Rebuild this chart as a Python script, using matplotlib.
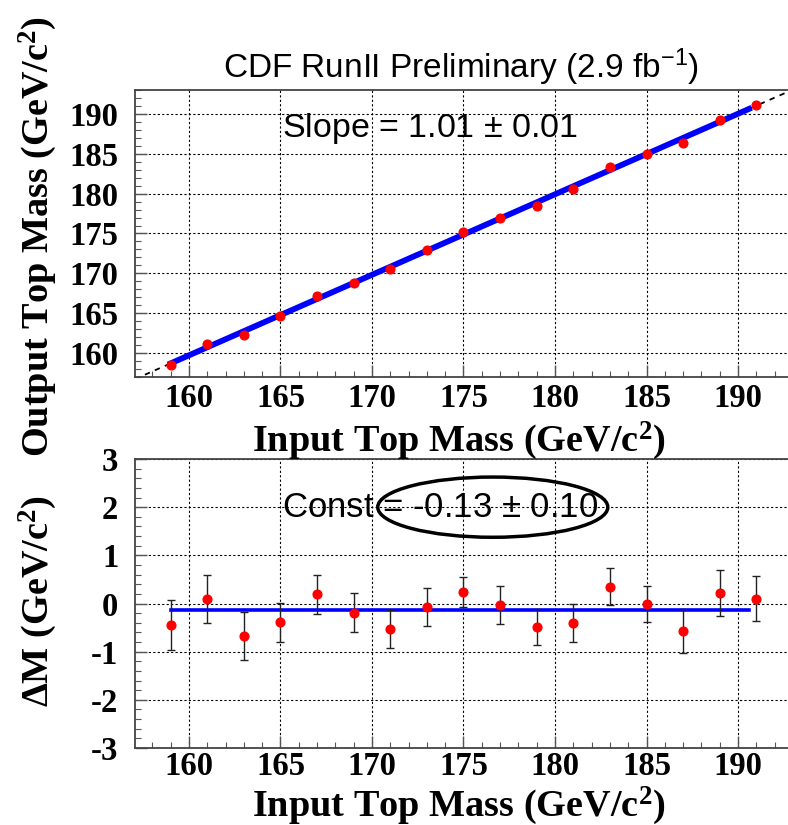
import matplotlib
matplotlib.use("Agg")
import matplotlib.pyplot as plt
from matplotlib.patches import Ellipse
from matplotlib.ticker import MultipleLocator
import numpy as np

# input masses and what the fitter gave back
input_mass = [159, 161, 163, 165, 167, 169, 171, 173, 175, 177, 179, 181, 183, 185, 187, 189, 191]
output_mass = [158.55, 161.1, 162.3, 164.6, 167.2, 168.8, 170.5, 172.9, 175.2, 177.0,
               178.5, 180.6, 183.35, 185.0, 186.4, 189.2, 191.1]
delta_m = [-0.45, 0.10, -0.68, -0.39, 0.19, -0.19, -0.53, -0.07, 0.23, -0.03,
           -0.49, -0.40, 0.35, -0.01, -0.57, 0.22, 0.10]
delta_err = [0.52, 0.50, 0.50, 0.40, 0.40, 0.40, 0.40, 0.40, 0.31, 0.39,
             0.38, 0.39, 0.39, 0.38, 0.45, 0.48, 0.47]

slope, slope_err = 1.01, 0.01
const, const_err = -0.13, 0.10
pivot = 175.0
fit_range = (159.0, 190.6)

plt.rcParams['mathtext.default'] = 'regular'
plt.rcParams['axes.unicode_minus'] = False
W, H = 788, 825
fig = plt.figure(figsize=(W / 100, H / 100), dpi=100)

serif = 'Liberation Serif'
sans = 'Liberation Sans'
xlim = (157.05, 192.95)


def px(x0, y0, x1, y1):
    # pixel box -> figure fraction rect
    return [x0 / W, 1 - y1 / H, (x1 - x0) / W, (y1 - y0) / H]


def style(ax, ymajor, yminor, xpad=4):
    ax.set_xlim(*xlim)
    ax.xaxis.set_major_locator(MultipleLocator(5))
    ax.xaxis.set_minor_locator(MultipleLocator(1))
    ax.yaxis.set_major_locator(MultipleLocator(ymajor))
    ax.yaxis.set_minor_locator(MultipleLocator(yminor))
    ax.tick_params(which='both', direction='in', top=False, right=False, color='#555555')
    ax.tick_params(which='major', length=8.5, width=1.0)
    ax.tick_params(which='minor', length=4.5, width=0.8)
    ax.tick_params(axis='x', which='major', pad=xpad)
    ax.tick_params(axis='y', which='major', pad=12)
    ax.grid(True, which='major', color='black', linestyle=(0, (2, 2)), linewidth=0.8)
    for s in ax.spines.values():
        s.set_color('#444444')
        s.set_linewidth(1.3)
    for lab in ax.get_xticklabels() + ax.get_yticklabels():
        lab.set_fontfamily(serif)
        lab.set_fontweight('bold')
        lab.set_fontsize(23.5)


# ---- top: output vs input ----
ax1 = fig.add_axes(px(135, 90, 792, 377))
ax1.set_ylim(157, 193)
xx = np.array(xlim)
ax1.plot(xx, pivot + const + slope * (xx - pivot), color='black', linestyle=(0, (3, 3)), lw=1.3, zorder=2)
fx = np.array(fit_range)
ax1.plot(fx, pivot + const + slope * (fx - pivot), color='#0000ff', lw=4.2, zorder=3)
ax1.plot(input_mass, output_mass, 'o', color='#ff0000', ms=6.3, mec='#ff0000', zorder=4)
style(ax1, 5, 1)
ax1.text(165.06, 188.2, f'Slope = {slope:.2f} $\\pm$ {slope_err:.2f}', fontfamily=sans,
         fontsize=24.5, ha='left', va='center')

# ---- bottom: residuals ----
ax2 = fig.add_axes(px(135, 459, 792, 748))
ax2.set_ylim(-3, 3)
ax2.errorbar(input_mass, delta_m, yerr=delta_err, fmt='none', ecolor='#222222', elinewidth=1.0,
             capsize=3, capthick=1.0, zorder=3)
ax2.plot(fx, [const, const], color='#0000ff', lw=2.6, zorder=2)
ax2.plot(input_mass, delta_m, 'o', color='#ff0000', ms=6.3, mec='#ff0000', zorder=4)
style(ax2, 1, 0.2, xpad=2)
ax2.text(165.06, 2.0, f'Const = {const:.2f} $\\pm$ {const_err:.2f}', fontfamily=sans,
         fontsize=25, ha='left', va='center')
ax2.add_patch(Ellipse((176.6, 2.0), 12.57, 1.25, fill=False, edgecolor='black', lw=2.5, zorder=5))

# ---- texts ----
fig.text(461 / W, 1 - 67 / H, 'CDF RunII Preliminary (2.9 fb$^{-1}$)', fontfamily=sans,
         fontsize=24, ha='center', va='center')
for y in (451, 816):
    fig.text(459 / W, 1 - y / H, 'Input Top Mass (GeV/c$^{2}$)', fontfamily=serif,
             fontweight='bold', fontsize=27.5, ha='center', va='baseline')
fig.text(48 / W, 1 - 457 / H, 'Output Top Mass (GeV/c$^{2}$)', fontfamily=serif,
         fontweight='bold', fontsize=27.5, ha='left', va='baseline', rotation=90,
         rotation_mode='anchor')
fig.text(48 / W, 1 - 707 / H, 'ΔM (GeV/c$^{2}$)', fontfamily=serif,
         fontweight='bold', fontsize=27.5, ha='left', va='baseline', rotation=90,
         rotation_mode='anchor')

fig.savefig('out.png', dpi=100)
